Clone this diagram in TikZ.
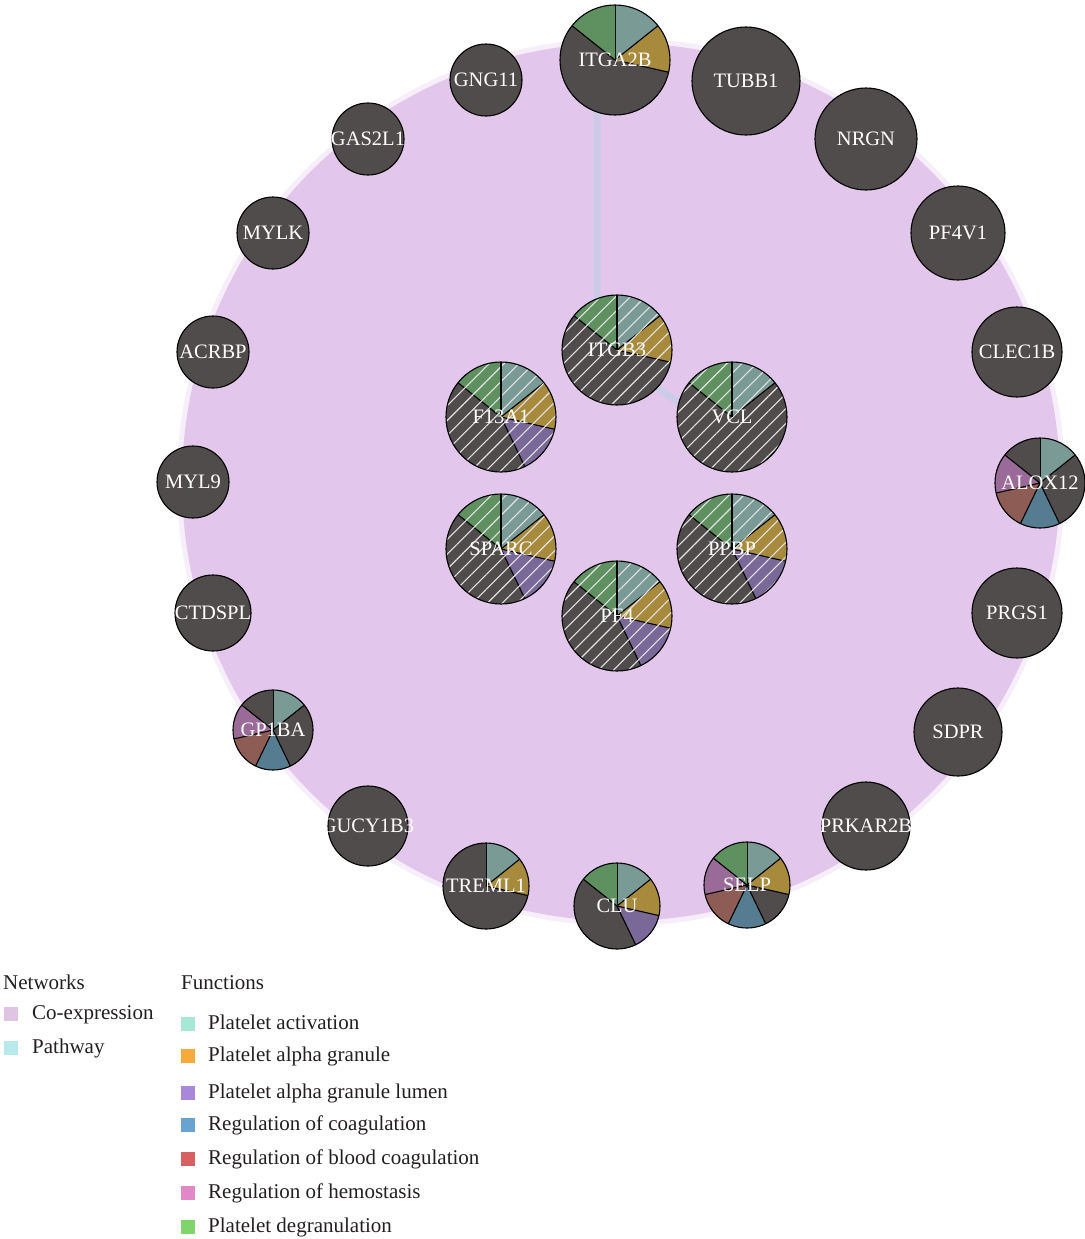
\documentclass[tikz,border=0pt]{standalone}
\usepackage{fontspec}
\setmainfont{Liberation Serif}
\usetikzlibrary{patterns.meta,backgrounds}
\definecolor{gdark}{HTML}{514C4C}
\definecolor{pact}{HTML}{7A9A96}
\definecolor{pgran}{HTML}{A88A3C}
\definecolor{plumen}{HTML}{7A6898}
\definecolor{pcoag}{HTML}{557C90}
\definecolor{pblood}{HTML}{8C5C55}
\definecolor{phemo}{HTML}{9A6A98}
\definecolor{pdeg}{HTML}{5F9060}
\definecolor{lact}{HTML}{A8E6D6}
\definecolor{lgran}{HTML}{F7A93C}
\definecolor{llumen}{HTML}{A888D8}
\definecolor{lcoag}{HTML}{6AA2D0}
\definecolor{lblood}{HTML}{D86060}
\definecolor{lhemo}{HTML}{E088C8}
\definecolor{ldeg}{HTML}{80D46C}
\definecolor{coexp}{HTML}{E2C6EC}
\definecolor{lcoexp}{HTML}{E0C4E4}
\definecolor{lpath}{HTML}{B8EAEC}
\definecolor{pathedge}{HTML}{C3CFE9}
\definecolor{legink}{HTML}{231F20}
\newcommand{\gn}[1]{\makebox[0pt]{#1}}

\begin{document}
\begin{tikzpicture}[x=1bp, y=-1bp,
    gene/.style={circle, draw=black, line width=1.1bp, fill=gdark, inner sep=0pt,
      minimum size=#1bp, text=white, font=\fontsize{20.5bp}{24bp}\selectfont},
    slices/.style={path picture={
      \foreach \fc/\fs/\fe in {#1} {
        \fill[\fc] (path picture bounding box.center) -- ++({-90+\fs*360/7}:70)
          arc[start angle={-90+\fs*360/7}, end angle={-90+\fe*360/7}, radius=70] -- cycle;
        \draw[black, line width=1.1bp] (path picture bounding box.center) -- ++({-90+\fs*360/7}:70);
      }}},
    hatch/.style={pattern={Lines[angle=45, distance=10.5bp, line width=1.1bp]}, pattern color=white!78!gray},
    pathway/.style={pathedge, line width=7bp, opacity=.7},
    legbox/.style={rectangle, inner sep=0pt, minimum size=14bp},
    legtext/.style={anchor=base west, inner sep=0pt, text=legink, font=\fontsize{21bp}{25bp}\selectfont}]
  \useasboundingbox (0,0) rectangle (1085,1239);
  %% outer ring
  \node[gene=110, slices={pact/0/1, pgran/1/2, gdark/2/6, pdeg/6/7}] (itga2b) at (615,60) {\gn{ITGA2B}};
  \node[gene=108] (tubb1) at (746,81) {\gn{TUBB1}};
  \node[gene=102] (nrgn) at (866,139) {\gn{NRGN}};
  \node[gene=94] (pf4v1) at (958,233) {\gn{PF4V1}};
  \node[gene=90] (clec1b) at (1017,352) {\gn{CLEC1B}};
  \node[gene=90, slices={pact/0/1, gdark/1/3, pcoag/3/4, pblood/4/5, phemo/5/6, gdark/6/7}] (alox12) at (1040,483) {\gn{ALOX12}};
  \node[gene=90] (prgs1) at (1017,613) {\gn{PRGS1}};
  \node[gene=88] (sdpr) at (958,732) {\gn{SDPR}};
  \node[gene=88] (prkar2b) at (866,826) {\gn{PRKAR2B}};
  \node[gene=86, slices={pact/0/1, pgran/1/2, gdark/2/3, pcoag/3/4, pblood/4/5, phemo/5/6, pdeg/6/7}] (selp) at (747,885) {\gn{SELP}};
  \node[gene=86, slices={pact/0/1, pgran/1/2, plumen/2/3, gdark/3/6, pdeg/6/7}] (clu) at (617,906) {\gn{CLU}};
  \node[gene=86, slices={pact/0/1, pgran/1/2, gdark/2/7}] (treml1) at (486,886) {\gn{TREML1}};
  \node[gene=80] (gucy1b3) at (368,826) {\gn{GUCY1B3}};
  \node[gene=80, slices={pact/0/1, gdark/1/3, pcoag/3/4, pblood/4/5, phemo/5/6, gdark/6/7}] (gp1ba) at (273,730) {\gn{GP1BA}};
  \node[gene=76] (ctdspl) at (213,613) {\gn{CTDSPL}};
  \node[gene=72] (myl9) at (193,482) {\gn{MYL9}};
  \node[gene=72] (acrbp) at (213,352) {\gn{ACRBP}};
  \node[gene=72] (mylk) at (273,233) {\gn{MYLK}};
  \node[gene=72] (gas2l1) at (368,139) {\gn{GAS2L1}};
  \node[gene=72] (gng11) at (486,80) {\gn{GNG11}};
  %% query genes
  \node[gene=110, slices={pact/0/1, pgran/1/2, gdark/2/6, pdeg/6/7, hatch/0/7}] (itgb3) at (617,350) {\gn{ITGB3}};
  \node[gene=110, slices={pact/0/1, pgran/1/2, plumen/2/3, gdark/3/6, pdeg/6/7, hatch/0/7}] (f13a1) at (501,417) {\gn{F13A1}};
  \node[gene=110, slices={pact/0/1, gdark/1/6, pdeg/6/7, hatch/0/7}] (vcl) at (732,417) {\gn{VCL}};
  \node[gene=110, slices={pact/0/1, pgran/1/2, plumen/2/3, gdark/3/6, pdeg/6/7, hatch/0/7}] (sparc) at (501,549) {\gn{SPARC}};
  \node[gene=110, slices={pact/0/1, pgran/1/2, plumen/2/3, gdark/3/6, pdeg/6/7, hatch/0/7}] (ppbp) at (732,549) {\gn{PPBP}};
  \node[gene=110, slices={pact/0/1, pgran/1/2, plumen/2/3, gdark/3/6, pdeg/6/7, hatch/0/7}] (pf4) at (617,616) {\gn{PF4}};
  %% links
  \begin{scope}[on background layer]
    \fill[coexp, opacity=.3] (621,482) circle[radius=444];
    \fill[coexp] (621,482) circle[radius=439];
    \draw[pathway] ([xshift=-18bp]itga2b.center) -- ([xshift=-20bp]itgb3.center);
    \draw[pathway] ([yshift=-8bp]itgb3.center) -- ([yshift=-25bp]vcl.center);
  \end{scope}
  %% legend
  \node[legtext] (networks) at (3,989) {Networks};
  \node[legbox, fill=lcoexp] (kcoexp) at (11,1014) {};
  \node[legtext] (tcoexp) at (32,1019) {Co-expression};
  \node[legbox, fill=lpath] (kpath) at (11,1048) {};
  \node[legtext] (tpath) at (32,1053) {Pathway};
  \node[legtext] (functions) at (181,989) {Functions};
  \node[legbox, fill=lact] (kact) at (188,1024) {};
  \node[legtext] (tact) at (208,1029) {Platelet activation};
  \node[legbox, fill=lgran] (kgran) at (188,1056) {};
  \node[legtext] (tgran) at (208,1061) {Platelet alpha granule};
  \node[legbox, fill=llumen] (klumen) at (188,1093) {};
  \node[legtext] (tlumen) at (208,1098) {Platelet alpha granule lumen};
  \node[legbox, fill=lcoag] (kcoag) at (188,1125) {};
  \node[legtext] (tcoag) at (208,1130) {Regulation of coagulation};
  \node[legbox, fill=lblood] (kblood) at (188,1159) {};
  \node[legtext] (tblood) at (208,1164) {Regulation of blood coagulation};
  \node[legbox, fill=lhemo] (khemo) at (188,1193) {};
  \node[legtext] (themo) at (208,1198) {Regulation of hemostasis};
  \node[legbox, fill=ldeg] (kdeg) at (188,1227) {};
  \node[legtext] (tdeg) at (208,1232) {Platelet degranulation};
\end{tikzpicture}
\end{document}
